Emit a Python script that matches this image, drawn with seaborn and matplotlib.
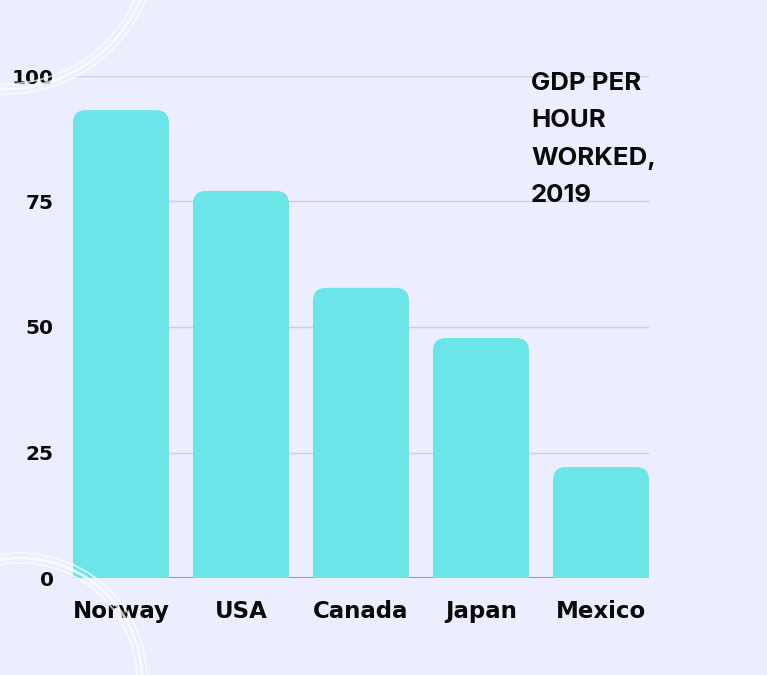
import matplotlib
matplotlib.use("Agg")
import matplotlib.pyplot as plt
import seaborn as sns
import pandas as pd
from matplotlib.patches import FancyBboxPatch, Circle

countries = ["Norway", "USA", "Canada", "Japan", "Mexico"]
gdp_per_hour = [93.2, 77.1, 57.8, 47.8, 22.1]
yticks = [0, 25, 50, 75, 100]
title = "GDP PER\nHOUR\nWORKED,\n2019"

BG = "#ECEEFE"
BAR = "#6BE5E8"

sns.set_theme(style="white")
plt.rcParams["font.family"] = ["DejaVu Sans"]

W, H = 767, 675
fig = plt.figure(figsize=(W / 100, H / 100), dpi=100, facecolor=BG)
ax = fig.add_axes([73 / W, (H - 578) / H, (649 - 73) / W, (578 - 76) / H])
ax.set_facecolor(BG)

df = pd.DataFrame({"country": countries, "value": gdp_per_hour})
sns.barplot(data=df, x="country", y="value", color=BAR, width=0.8, ax=ax,
            saturation=1, zorder=3)

ax.set_xlim(-0.4, 4.4)
ax.set_ylim(0, 100)
ax.set_yticks(yticks)
ax.set_xlabel("")
ax.set_ylabel("")
for s in ax.spines.values():
    s.set_visible(False)
ax.grid(axis="y", color="#CBCDE2", linewidth=1, zorder=0)
ax.grid(axis="x", visible=False)
ax.axhline(0, color="#9C9CAE", linewidth=1.5, zorder=1)
ax.tick_params(axis="y", length=0, pad=14, labelsize=14.5)
ax.tick_params(axis="x", length=0, pad=16, labelsize=16.5)
for lab in ax.get_yticklabels() + ax.get_xticklabels():
    lab.set_fontweight("bold")
    lab.set_color("#0A0A0A")

# rounded tops
fig.canvas.draw()
bbox = ax.get_window_extent()
px_x = bbox.width / (4.8)
px_y = bbox.height / 100
rad_px = 13
r = rad_px / px_x
aspect = (rad_px / px_y) / r
for p in list(ax.patches):
    x0, w, h = p.get_x(), p.get_width(), p.get_height()
    p.remove()
    fb = FancyBboxPatch((x0, -10), w, h + 10,
                        boxstyle=f"round,pad=0,rounding_size={r}",
                        mutation_aspect=aspect, facecolor=BAR, edgecolor="none",
                        zorder=3, clip_on=True)
    ax.add_patch(fb)
    fb.set_clip_path(ax.patch)

ax.text((531 - 73) / (649 - 73), (578 - 72) / (578 - 76), title,
        transform=ax.transAxes, ha="left", va="top", fontsize=18.5,
        fontweight="bold", family=["Inter", "DejaVu Sans"], color="#0A0A0A",
        linespacing=1.8, zorder=5)

# decorative rings (figure pixel coords)
for (cx, cy, rr, lw) in [(5, H + 58, 152, 1.2), (5, H + 58, 147, 2.0), (5, H + 58, 142, 1.2),
                         (20, -5, 127, 1.2), (20, -5, 122, 2.0), (20, -5, 117, 1.2)]:
    c = Circle((cx, cy), rr, transform=None, fill=False,
               edgecolor="white", linewidth=lw, alpha=0.75, zorder=10)
    fig.patches.append(c)

fig.savefig("out.png", dpi=100, facecolor=BG)
